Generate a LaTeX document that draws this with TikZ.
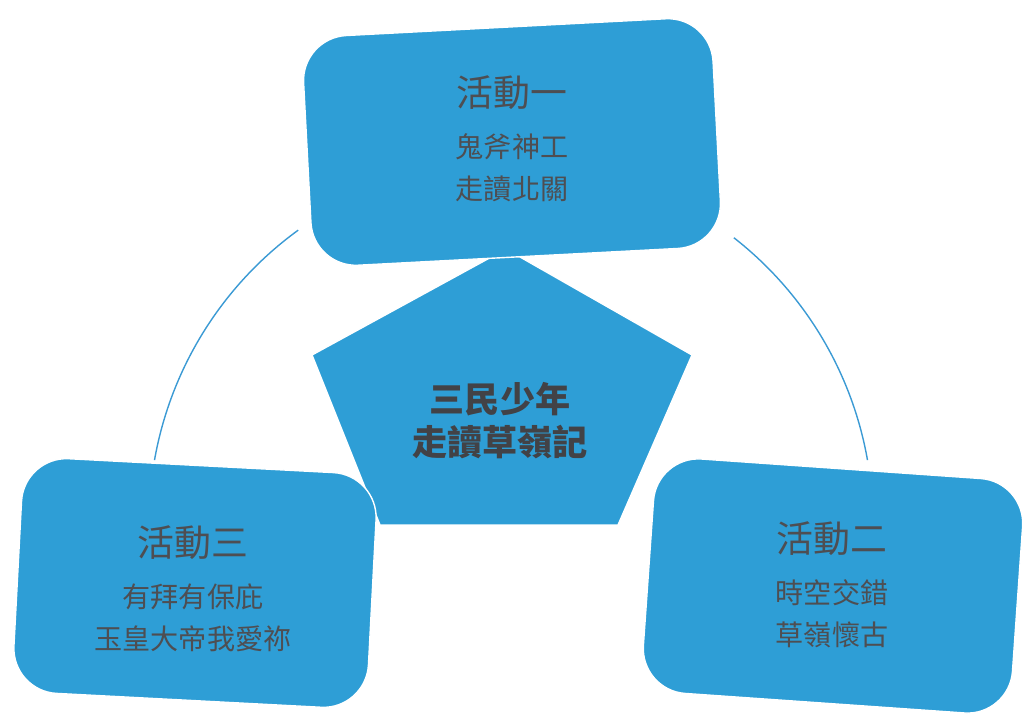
\documentclass[tikz,border=0pt]{standalone}
\usepackage{fontspec}
\newfontfamily\cjk{Noto Sans CJK TC}
\usetikzlibrary{positioning}
\definecolor{boxblue}{HTML}{2E9ED6}
\definecolor{ringblue}{HTML}{3B9AD4}
\definecolor{inkgray}{HTML}{4E4E52}
\tikzset{
  actbox/.style={fill=boxblue, draw=white, line width=0.8pt, rounded corners=0.9cm},
  acttext/.style={font=\cjk\fontsize{16}{24}\selectfont, text=inkgray, align=center},
  ring/.style={draw=ringblue, line width=0.8pt}
}
\newcommand{\acttitle}[1]{{\fontsize{21}{26}\selectfont #1}\\[5pt]}
\begin{document}
\begin{tikzpicture}
\useasboundingbox (0,0) rectangle (20.48,14.28);
\coordinate (ringcentre) at (10.22,3.82);
\coordinate (p1) at (10.12,9.3);
\coordinate (p2) at (13.84,7.18);
\coordinate (p3) at (12.36,3.78);
\coordinate (p4) at (7.6,3.78);
\coordinate (p5) at (6.24,7.18);
\path[draw,ring] ([shift={(126:7.24)}]ringcentre) arc[start angle=126, end angle=170, radius=7.24];
\path[draw,ring] ([shift={(52:7.24)}]ringcentre) arc[start angle=52, end angle=10, radius=7.24];
\path[fill=boxblue,draw=white,line width=0.8pt] (p1) -- (p2) -- (p3) -- (p4) -- (p5) -- cycle;
\node[font=\cjk\bfseries\fontsize{20}{24.5}\selectfont, text=inkgray!85!black, align=center] (core) at (10.0,5.86) {三民少年\\走讀草嶺記};
\node[actbox, rotate=3, minimum width=8.2cm, minimum height=4.6cm] (act1) at (10.24,11.44) {};
\node[actbox, rotate=-3, minimum width=7.1cm, minimum height=4.7cm] (act3) at (3.9,2.62) {};
\node[actbox, rotate=-4, minimum width=7.4cm, minimum height=4.7cm] (act2) at (16.66,2.56) {};
\node[acttext] (text1) at (10.24,11.5) {\acttitle{活動一}鬼斧神工\\走讀北關};
\node[acttext] (text3) at (3.86,2.5) {\acttitle{活動三}有拜有保庇\\玉皇大帝我愛祢};
\node[acttext] (text2) at (16.64,2.58) {\acttitle{活動二}時空交錯\\草嶺懷古};
\end{tikzpicture}
\end{document}
